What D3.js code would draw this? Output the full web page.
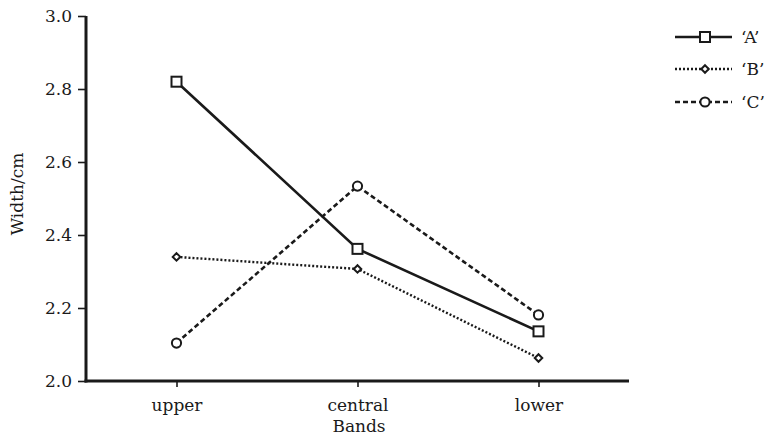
<!DOCTYPE html>
<html><head><meta charset="utf-8">
<script src="https://cdn.jsdelivr.net/npm/d3@7"></script>
<style>body{margin:0;background:#fff;}</style>
</head><body><svg id="c" width="767" height="441" style="font-family:'DejaVu Serif',serif"></svg>
<script>
const categories = ["upper", "central", "lower"];
const seriesNames = ["\u2018A\u2019", "\u2018B\u2019", "\u2018C\u2019"];
const valuesA = [2.82, 2.362, 2.136];
const valuesB = [2.34, 2.307, 2.063];
const valuesC = [2.104, 2.534, 2.181];
const yTicks = [2.0, 2.2, 2.4, 2.6, 2.8, 3.0];

const svg = d3.select("#c");
const x = d3.scalePoint().domain(categories).range([86, 629]).padding(0.5);
const y = d3.scaleLinear().domain([2.0, 3.0]).range([381, 16]);
const col = "#1a1a1a";
const FONT = "DejaVu Serif";
const FS = "17px";

const series = [
  {name: seriesNames[0], vals: valuesA, dash: null, width: 2.6, marker: "square"},
  {name: seriesNames[1], vals: valuesB, dash: "2,2", width: 2.4, marker: "diamond"},
  {name: seriesNames[2], vals: valuesC, dash: "5,3", width: 2.6, marker: "circle"}
];

const yAxis = d3.axisLeft(y).tickValues(yTicks).tickFormat(d3.format(".1f")).tickSizeOuter(0).tickSize(8).tickPadding(6);
const gy = svg.append("g").attr("transform", "translate(86,0)").call(yAxis);
const xAxis = d3.axisBottom(x).tickSizeOuter(0).tickSize(6).tickPadding(12);
const gx = svg.append("g").attr("transform", "translate(0,381)").call(xAxis);
[gy, gx].forEach(g => {
  g.attr("font-family", null).attr("font-size", null);
  g.select(".domain").attr("stroke", col).attr("stroke-width", 3);
  g.selectAll(".tick line").attr("stroke", col).attr("stroke-width", 1.6);
  g.selectAll(".tick text").attr("fill", col).style("font-family", FONT).style("font-size", FS);
});
gy.select(".domain").attr("d", "M0,16V382.5");
gx.select(".domain").attr("d", "M84.5,0H629");

svg.append("text").attr("x", 359).attr("y", 432).attr("text-anchor", "middle").style("font-family", FONT).style("font-size", FS).attr("fill", col).text("Bands");
svg.append("text").attr("transform", "translate(23,194) rotate(-90)").attr("text-anchor", "middle").style("font-family", FONT).style("font-size", FS).attr("fill", col).text("Width/cm");

function marker(g, type, cx, cy) {
  if (type === "square") {
    g.append("rect").attr("x", cx - 5).attr("y", cy - 5).attr("width", 10).attr("height", 10)
      .attr("fill", "#fff").attr("stroke", col).attr("stroke-width", 2);
  } else if (type === "diamond") {
    g.append("path").attr("d", d3.symbol(d3.symbolDiamond2, 36)()).attr("transform", `translate(${cx},${cy})`)
      .attr("fill", "#fff").attr("stroke", col).attr("stroke-width", 2);
  } else {
    g.append("circle").attr("cx", cx).attr("cy", cy).attr("r", 4.6)
      .attr("fill", "#fff").attr("stroke", col).attr("stroke-width", 2);
  }
}

const line = d3.line().x((d, i) => x(categories[i])).y(d => y(d));
series.forEach(s => {
  const g = svg.append("g");
  g.append("path").attr("d", line(s.vals)).attr("fill", "none").attr("stroke", col)
    .attr("stroke-width", s.width).attr("stroke-dasharray", s.dash);
  s.vals.forEach((v, i) => marker(g, s.marker, x(categories[i]), y(v)));
});

const legY = [37, 69, 102];
series.forEach((s, i) => {
  const g = svg.append("g");
  g.append("line").attr("x1", 675).attr("x2", 732).attr("y1", legY[i]).attr("y2", legY[i])
    .attr("stroke", col).attr("stroke-width", s.width).attr("stroke-dasharray", s.dash);
  marker(g, s.marker, 705, legY[i]);
  g.append("text").attr("x", 741).attr("y", legY[i] + 6).style("font-family", FONT).style("font-size", FS).attr("fill", col).text(s.name);
});
</script></body></html>
